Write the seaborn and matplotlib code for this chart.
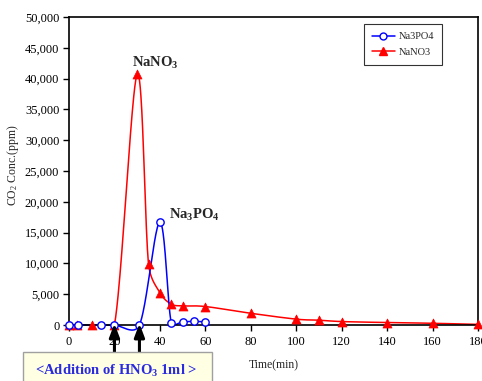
import numpy as np
import matplotlib
matplotlib.use("Agg")
import matplotlib.pyplot as plt
import seaborn as sns
from matplotlib.lines import Line2D
from matplotlib.patches import Rectangle

# values
time_nano3 = [0, 3.5, 10, 20, 30, 35, 40, 45, 50, 60, 80, 100, 110, 120, 140, 160, 180]
conc_nano3 = [0, 0, 0, 0, 40700, 9900, 5250, 3400, 3100, 3000, 1900, 950, 780, 560, 400, 280, 100]
time_na3po4 = [0, 4, 14, 20, 31, 40, 45, 50, 55, 60]
conc_na3po4 = [0, 0, 0, 0, 0, 16700, 380, 500, 600, 500]
arrow_times = [20, 31]
x_ticks = list(range(0, 181, 20))
y_ticks = list(range(0, 50001, 5000))

SERIF = "Liberation Serif"


def smooth_curve(ax, xs, ys, n=40):
    # Excel-like smoothed line: Bezier through the points, built in pixel space
    pts = ax.transData.transform(np.column_stack([xs, ys]))
    out = [pts[0]]
    for i in range(len(pts) - 1):
        p0 = pts[max(i - 1, 0)]
        p1, p2 = pts[i], pts[i + 1]
        p3 = pts[min(i + 2, len(pts) - 1)]
        seg = np.hypot(*(p2 - p1))
        t1 = (p2 - p0) / 6
        t2 = (p3 - p1) / 6
        for t in (t1, t2):
            ln = np.hypot(*t)
            if ln > 0.5 * seg:
                t *= 0.5 * seg / ln
        c1, c2 = p1 + t1, p2 - t2
        u = np.linspace(0, 1, n)[1:, None]
        out.extend((1 - u) ** 3 * p1 + 3 * (1 - u) ** 2 * u * c1
                   + 3 * (1 - u) * u ** 2 * c2 + u ** 3 * p2)
    xy = ax.transData.inverted().transform(np.array(out))
    return xy[:, 0], xy[:, 1]


sns.set_style("ticks")
plt.rcParams["font.family"] = [SERIF, "DejaVu Serif"]
plt.rcParams["mathtext.fontset"] = "custom"
plt.rcParams["mathtext.rm"] = SERIF
plt.rcParams["mathtext.bf"] = SERIF + ":bold"

fig = plt.figure(figsize=(4.82, 3.81), dpi=100)
ax = fig.add_axes([69 / 482, 56 / 381, 409 / 482, 308 / 381])
ax.set_xlim(0, 180)
ax.set_ylim(0, 50000)

# smoothed lines
sx, sy = smooth_curve(ax, time_nano3, conc_nano3)
sns.lineplot(x=sx, y=sy, sort=False, estimator=None, color="#ff0000", lw=1.1, ax=ax)
bx, by = smooth_curve(ax, time_na3po4, conc_na3po4)
sns.lineplot(x=bx, y=by, sort=False, estimator=None, color="#0000ff", lw=1.1, ax=ax)
ax.lines[-1].set_clip_on(False)

# markers
sns.scatterplot(x=time_nano3, y=conc_nano3, marker="^", color="#ff0000",
                edgecolor="#ff0000", s=42, zorder=4, clip_on=False, ax=ax)
sns.scatterplot(x=time_na3po4, y=conc_na3po4, marker="o", facecolor="white",
                edgecolor="#0000ff", linewidth=1.0, s=28, zorder=5, clip_on=False, ax=ax)

ax.set_xticks(x_ticks)
ax.set_yticks(y_ticks)
ax.set_yticklabels([f"{v:,}" for v in y_ticks])
ax.tick_params(direction="out", length=4, width=1, labelsize=9, pad=3, colors="black")
ax.tick_params(axis="x", pad=4)
for s in ax.spines.values():
    s.set_visible(True)
    s.set_color("black")
    s.set_linewidth(1.2)

ax.set_xlabel("Time(min)", fontsize=8.5, labelpad=8)
ax.set_ylabel(r"CO$\mathregular{_2}$ Conc.(ppm)", fontsize=8.5)
ax.yaxis.set_label_coords(-0.118, 0.52)

# peak labels
ax.text(37.9, 42500, r"NaNO$\mathregular{_3}$", fontsize=10.5, fontweight="bold",
        ha="center", va="center")
ax.text(55, 17900, r"Na$\mathregular{_3}$PO$\mathregular{_4}$", fontsize=10.5,
        fontweight="bold", ha="center", va="center")

# addition arrows
for t in arrow_times:
    ax.annotate("", xy=(t, 250), xycoords="data",
                xytext=(t, 29 / 381), textcoords=("data", "figure fraction"),
                arrowprops=dict(arrowstyle="-|>,head_width=0.3,head_length=0.8",
                                lw=2.2, color="black", shrinkA=0, shrinkB=0),
                annotation_clip=False, zorder=6)

# legend
handles = [
    Line2D([], [], color="#0000ff", marker="o", mfc="white", mec="#0000ff", ms=5, lw=1.1),
    Line2D([], [], color="#ff0000", marker="^", mfc="#ff0000", mec="#ff0000", ms=5.5, lw=1.1),
]
leg = ax.legend(handles, ["Na3PO4", "NaNO3"], loc="upper left",
                bbox_to_anchor=(0.721, 0.977), borderaxespad=0, fontsize=7.5,
                frameon=True, fancybox=False, edgecolor="black", handlelength=2.2,
                handletextpad=0.4, borderpad=0.75, labelspacing=0.6)
leg.get_frame().set_linewidth(0.8)

# note box at bottom left
fig.patches.append(Rectangle((23 / 482, -0.05), 189 / 482, 29 / 381 + 0.05,
                             transform=fig.transFigure, facecolor="#ffffe3",
                             edgecolor="#a0a0a0", lw=1.0, zorder=1))
fig.text(116 / 482, 10.5 / 381, r"<Addition of HNO$\mathregular{_3}$ 1ml >",
         fontsize=10.5, fontweight="bold", color="#2a2adf", ha="center", va="center",
         zorder=2)

fig.savefig("out.png", dpi=100)
